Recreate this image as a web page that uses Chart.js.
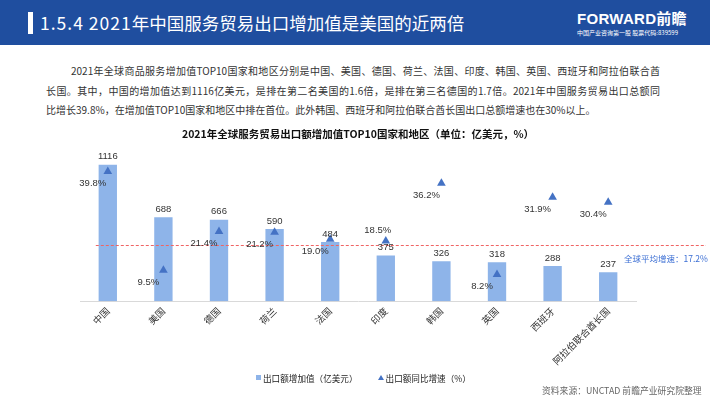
<!doctype html>
<html>

<head>
	<meta charset="utf-8">
	<title>2021年全球服务贸易出口额增加值TOP10</title>
	<script src="https://cdn.jsdelivr.net/npm/chart.js@4.4.0/dist/chart.umd.min.js"></script>
	<style>
		html, body { margin: 0; padding: 0; }
		body { width: 710px; height: 399px; position: relative; overflow: hidden; background: #fff;
			font-family: "Noto Sans CJK SC", "Liberation Sans", sans-serif; }
		#header { position: absolute; left: 0; top: 0; width: 710px; height: 45px; background: #1f4e9f; }
		#header .bar { position: absolute; left: 28px; top: 12px; width: 5px; height: 22px; background: #fff; }
		#head-title { position: absolute; left: 40px; top: 10px; color: #fff; font-family: "Noto Sans CJK SC", sans-serif; font-size: 17.5px; line-height: 26px; white-space: nowrap; }
		#head-title .num { letter-spacing: 1px; }
		#header .logo { position: absolute; left: 577px; top: 7px; color: #fff; font: bold 15px "Liberation Sans", "Noto Sans CJK SC", sans-serif; letter-spacing: 0.3px; }
		#header .sub { position: absolute; left: 577px; top: 28px; color: #fff; font-size: 6px; white-space: nowrap; }
		.para { position: absolute; font-size: 10px; color: #333; white-space: nowrap; line-height: 14px; }
		.just { text-align: justify; text-align-last: justify; }
		#chart-holder { position: absolute; left: 0; top: 122px; width: 710px; height: 253px; }
		#legend { position: absolute; top: 370px; left: 256px; font-size: 8.6px; color: #222; white-space: nowrap; }
		#legend span { display: inline-block; vertical-align: middle; }
		.sq { width: 5px; height: 5px; background: #8eb4e9; margin-right: 2px; }
		.tri { width: 0; height: 0; border-left: 3px solid transparent; border-right: 3px solid transparent; border-bottom: 5px solid #4472c4; margin: 0 2px 0 20px; }
		#source { position: absolute; left: 542px; top: 384px; font-size: 8.8px; color: #666; white-space: nowrap; }
	</style>
</head>

<body>
	<div id="header">
		<div class="bar"></div>
		<div id="head-title"><span class="num">1.5.4 2021</span>年中国服务贸易出口增加值是美国的近两倍</div>
		<div class="logo">FORWARD前瞻</div>
		<div class="sub">中国产业咨询第一股 股票代码:839599</div>
	</div>

	<div class="para just" style="left:71px; top:64px; width:589px;">2021年全球商品服务增加值TOP10国家和地区分别是中国、美国、德国、荷兰、法国、印度、韩国、英国、西班牙和阿拉伯联合酋</div>
	<div class="para just" style="left:46px; top:84px; width:614px;">长国。其中，中国的增加值达到1116亿美元，是排在第二名美国的1.6倍，是排在第三名德国的1.7倍。2021年中国服务贸易出口总额同</div>
	<div class="para" style="left:46px; top:103px;">比增长39.8%，在增加值TOP10国家和地区中排在首位。此外韩国、西班牙和阿拉伯联合酋长国出口总额增速也在30%以上。</div>

	<div id="chart-holder">
		<canvas id="chart-area"></canvas>
	</div>

	<div id="legend">
		<span class="sq"></span><span>出口额增加值（亿美元）</span><span class="tri"></span><span>出口额同比增速（%）</span>
	</div>
	<div id="source">资料来源：UNCTAD 前瞻产业研究院整理</div>

	<script>
		var categories = ['中国', '美国', '德国', '荷兰', '法国', '印度', '韩国', '英国', '西班牙', '阿拉伯联合酋长国'];
		var exportAdded = [1116, 688, 666, 590, 484, 375, 326, 318, 288, 237];
		var exportGrowth = [39.8, 9.5, 21.4, 21.2, 19.0, 18.5, 36.2, 8.2, 31.9, 30.4];
		var globalAvgGrowth = 17.2;

		var labelFont = '9.5px "Liberation Sans", Arial, sans-serif';

		// dashed average line plus its note
		var avgLine = {
			id: 'avgLine',
			afterDatasetsDraw: function(chart) {
				var ctx = chart.ctx;
				var y = chart.scales.y1.getPixelForValue(globalAvgGrowth);
				var x0 = chart.scales.x.getPixelForValue(0) - 12;
				ctx.save();
				ctx.strokeStyle = '#f06464';
				ctx.lineWidth = 1;
				ctx.setLineDash([3, 2]);
				ctx.beginPath();
				ctx.moveTo(x0, Math.round(y) + 0.5);
				ctx.lineTo(chart.width - 4, Math.round(y) + 0.5);
				ctx.stroke();
				ctx.setLineDash([]);
				ctx.fillStyle = '#3c6fd4';
				ctx.font = '8.5px "Noto Sans CJK SC", sans-serif';
				ctx.textBaseline = 'middle';
				ctx.textAlign = 'left';
				ctx.fillText('全球平均增速：' + globalAvgGrowth + '%', chart.chartArea.right - 12, y + 14);
				ctx.restore();
			}
		};

		// value labels for bars and triangles
		var valueLabels = {
			id: 'valueLabels',
			afterDatasetsDraw: function(chart) {
				var ctx = chart.ctx;
				var bars = chart.getDatasetMeta(0).data;
				var pts = chart.getDatasetMeta(1).data;
				ctx.save();
				ctx.font = labelFont;
				ctx.fillStyle = '#333';
				ctx.textAlign = 'center';
				ctx.textBaseline = 'middle';
				bars.forEach(function(el, i) {
					ctx.fillText(exportAdded[i], el.x, el.y - 8);
				});
				pts.forEach(function(el, i) {
					var barLabelY = bars[i].y - 8;
					var y = el.y + 12, x = el.x - 15;
					if (Math.abs(y - barLabelY) < 11) { y = el.y - 11; x = el.x - 8; }
					ctx.fillText(exportGrowth[i].toFixed(1) + '%', x, y);
				});
				ctx.restore();
			}
		};

		var ctx = document.getElementById('chart-area').getContext('2d');
		window.myChart = new Chart(ctx, {
			type: 'bar',
			data: {
				labels: categories,
				datasets: [{
					label: '出口额增加值（亿美元）',
					data: exportAdded,
					backgroundColor: '#8eb4e9',
					barPercentage: 0.33,
					categoryPercentage: 1,
					yAxisID: 'y',
					order: 2
				}, {
					type: 'line',
					label: '出口额同比增速（%）',
					data: exportGrowth,
					showLine: false,
					pointStyle: 'triangle',
					pointRadius: 5,
					pointBackgroundColor: '#4472c4',
					pointBorderColor: '#4472c4',
					pointBorderWidth: 0,
					yAxisID: 'y1',
					order: 1
				}]
			},
			options: {
				responsive: true,
				maintainAspectRatio: false,
				animation: false,
				layout: { padding: { left: 80, right: 74, top: 0, bottom: 4 } },
				plugins: {
					legend: { display: false },
					tooltip: { enabled: false },
					title: {
						display: true,
						text: '2021年全球服务贸易出口额增加值TOP10国家和地区（单位：亿美元，%）',
						color: '#111',
						font: { family: '"Noto Sans CJK SC", sans-serif', size: 10.5, weight: 'bold' },
						padding: { top: 6, bottom: 14 }
					}
				},
				scales: {
					x: {
						grid: { display: false, drawTicks: false },
						border: { display: true, color: '#d9d9d9' },
						ticks: {
							color: '#333',
							font: { family: '"Noto Sans CJK SC", sans-serif', size: 9.5 },
							minRotation: 45,
							maxRotation: 45,
							padding: 4
						}
					},
					y: { display: false, min: 0, max: 1200 },
					y1: { display: false, position: 'right', min: 0, max: 45 }
				}
			},
			plugins: [avgLine, valueLabels]
		});
	</script>
</body>

</html>
